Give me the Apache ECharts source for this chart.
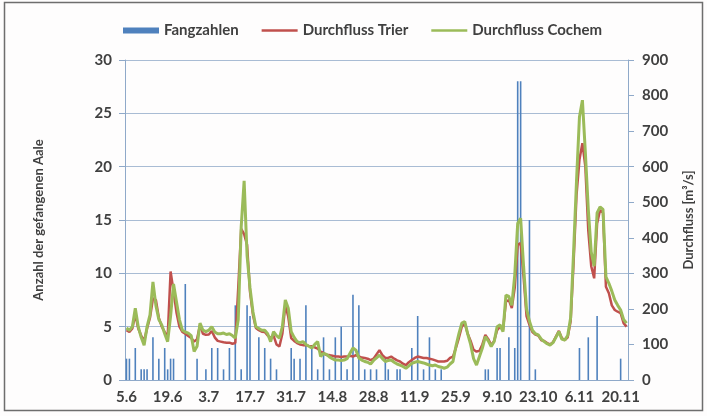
<!DOCTYPE html>
<html>
<head>
<meta charset="utf-8">
<script src="https://cdn.jsdelivr.net/npm/echarts@6/dist/echarts.min.js"></script>
<style>
  html, body { margin: 0; padding: 0; background: #ffffff; }
  #chart { width: 707px; height: 416px; }
</style>
</head>
<body>
<div id="chart"></div>
<script>
// Daily date labels (day.month) from 5 June to 22 November
const startDay = 5, startMonth = 6, dayCount = 171;
const monthLengths = { 6: 30, 7: 31, 8: 31, 9: 30, 10: 31, 11: 30 };
const categories = [];
(function () {
  let d = startDay, m = startMonth;
  for (let k = 0; k < dayCount; k++) {
    categories.push(d + '.' + m);
    d++;
    if (d > monthLengths[m]) { d = 1; m++; }
  }
})();

// Eels caught per day
const fangzahlen = [
  2, 2, 0, 3, 0, 1, 1, 1, 0, 4, 0, 2, 0, 3,
  1, 2, 2, 0, 0, 0, 9, 0, 0, 0, 2, 0, 0, 1,
  0, 3, 0, 3, 0, 1, 0, 3, 0, 7, 0, 1, 0, 7,
  6, 0, 0, 4, 0, 3, 0, 2, 0, 1, 0, 0, 0, 0,
  3, 2, 0, 2, 0, 7, 0, 3, 0, 1, 0, 4, 0, 1,
  0, 4, 0, 5, 0, 1, 0, 8, 0, 7, 0, 1, 0, 1,
  0, 1, 0, 0, 2, 1, 0, 0, 1, 1, 0, 0, 0, 3,
  0, 6, 0, 1, 0, 4, 0, 1, 0, 1, 0, 0, 0, 0,
  0, 0, 0, 0, 0, 0, 0, 0, 0, 0, 1, 1, 0, 0,
  3, 3, 0, 0, 4, 0, 3, 28, 28, 0, 0, 15, 0, 1,
  0, 0, 0, 0, 0, 0, 0, 0, 0, 0, 0, 0, 0, 0,
  3, 0, 0, 4, 0, 0, 6, 0, 0, 0, 0, 0, 0, 0,
  2, 0, 0
];

// Discharge at Trier, m³/s
const durchflussTrier = [
  140, 135, 145, 185, 145, 125, 110, 145, 175, 230, 225, 175, 150, 135,
  120, 305, 250, 190, 150, 135, 130, 124, 118, 108, 115, 155, 130, 127,
  128, 138, 120, 110, 108, 106, 105, 105, 102, 104, 260, 425, 410, 380,
  248, 183, 146, 140, 136, 135, 125, 118, 125, 100, 94, 130, 211, 178,
  118, 110, 104, 100, 98, 98, 96, 95, 92, 88, 80, 76, 70, 70,
  68, 66, 66, 65, 66, 66, 68, 66, 70, 66, 63, 62, 60, 56,
  60, 72, 84, 70, 62, 62, 66, 60, 55, 52, 46, 42, 50, 56,
  62, 66, 64, 62, 62, 60, 58, 55, 52, 52, 52, 54, 62, 66,
  90, 118, 150, 160, 130, 110, 85, 80, 82, 100, 127, 115, 98, 110,
  140, 150, 140, 220, 225, 202, 260, 380, 385, 290, 180, 155, 135, 128,
  125, 112, 110, 104, 100, 106, 122, 138, 118, 112, 120, 165, 330, 520,
  620, 666, 600, 420, 320, 286, 440, 478, 470, 262, 244, 210, 197, 192,
  188, 160, 150
];

// Discharge at Cochem, m³/s
const durchflussCochem = [
  146, 140, 150, 202, 150, 120, 98, 150, 183, 276, 210, 170, 155, 130,
  108, 180, 270, 220, 170, 140, 135, 132, 125, 80, 95, 160, 140, 136,
  140, 150, 135, 130, 130, 132, 128, 130, 125, 118, 170, 430, 560, 350,
  259, 192, 150, 145, 140, 140, 130, 108, 136, 125, 118, 150, 225, 202,
  136, 120, 108, 105, 108, 100, 95, 90, 100, 108, 66, 75, 72, 65,
  60, 56, 56, 55, 56, 60, 75, 90, 84, 62, 56, 52, 50, 45,
  55, 62, 70, 60, 52, 55, 56, 50, 45, 42, 38, 33, 40, 47,
  50, 52, 50, 48, 45, 42, 40, 42, 38, 36, 33, 36, 45, 52,
  95, 130, 160, 164, 130, 100, 60, 42, 66, 90, 122, 110, 94, 108,
  150, 155, 136, 239, 235, 210, 295, 440, 455, 320, 200, 165, 140, 130,
  127, 115, 108, 102, 98, 105, 120, 136, 115, 112, 125, 175, 360, 560,
  740, 787, 640, 480, 360, 320, 470, 487, 480, 290, 272, 250, 225, 210,
  197, 170, 160
];

const FONT = 'Lato';
const TEXT = '#404040';
const AXIS = '#8fa9c9';
const GRID = '#a9bcd4';
const labelFont = { fontFamily: FONT, fontSize: 15, fontWeight: 'bold', color: TEXT };
const nameFont = { fontFamily: FONT, fontSize: 13, fontWeight: 'bold', color: TEXT };
// thin horizontal stroke used as the legend key of the two discharge lines
const LINE_KEY = 'path://M0,0H14V1H0Z';

const chart = echarts.init(document.getElementById('chart'), null, { renderer: 'canvas' });
chart.setOption({
  animation: false,
  backgroundColor: '#fefdfd',
  textStyle: { fontFamily: FONT },
  graphic: [{
    type: 'rect',
    shape: { x: 4.5, y: 2.5, width: 698, height: 408 },
    style: { fill: 'none', stroke: '#6e6e6e', lineWidth: 1.5 },
    silent: true
  }],
  legend: {
    top: 18,
    left: 118,
    itemGap: 23,
    itemWidth: 36,
    itemHeight: 6,
    symbolKeepAspect: true,
    textStyle: labelFont,
    data: [
      { name: 'Fangzahlen', icon: 'rect' },
      { name: 'Durchfluss Trier', icon: LINE_KEY },
      { name: 'Durchfluss Cochem', icon: LINE_KEY }
    ]
  },
  grid: { left: 125, right: 79, top: 60, bottom: 36, containLabel: false },
  xAxis: {
    type: 'category',
    data: categories,
    boundaryGap: true,
    axisLine: { lineStyle: { color: AXIS, width: 1 } },
    axisTick: { interval: 13, length: 5, lineStyle: { color: AXIS } },
    axisLabel: Object.assign({ interval: 13, margin: 10 }, labelFont)
  },
  yAxis: [{
    type: 'value',
    min: 0, max: 30, interval: 5,
    name: 'Anzahl der gefangenen Aale',
    nameLocation: 'middle',
    nameRotate: 90,
    nameGap: 80,
    nameTextStyle: nameFont,
    axisLine: { show: true, lineStyle: { color: AXIS } },
    axisTick: { show: true, length: 6, lineStyle: { color: AXIS } },
    axisLabel: Object.assign({ margin: 13 }, labelFont),
    splitLine: { show: true, lineStyle: { color: GRID, width: 1 } }
  }, {
    type: 'value',
    position: 'right',
    min: 0, max: 900, interval: 100,
    name: 'Durchfluss [m³/s]',
    nameLocation: 'middle',
    nameRotate: 90,
    nameGap: 54,
    nameTextStyle: nameFont,
    axisLine: { show: true, lineStyle: { color: AXIS } },
    axisTick: { show: true, length: 6, lineStyle: { color: AXIS } },
    axisLabel: Object.assign({ margin: 14 }, labelFont),
    splitLine: { show: false }
  }],
  series: [{
    name: 'Fangzahlen',
    type: 'bar',
    yAxisIndex: 0,
    data: fangzahlen,
    barWidth: 1.6,
    itemStyle: { color: '#4f81bd' }
  }, {
    name: 'Durchfluss Trier',
    type: 'line',
    yAxisIndex: 1,
    data: durchflussTrier,
    symbol: 'none',
    lineStyle: { color: '#c0504d', width: 2.5 },
    itemStyle: { color: '#c0504d' }
  }, {
    name: 'Durchfluss Cochem',
    type: 'line',
    yAxisIndex: 1,
    data: durchflussCochem,
    symbol: 'none',
    lineStyle: { color: '#9bbb59', width: 3 },
    itemStyle: { color: '#9bbb59' }
  }]
});
</script>
</body>
</html>
